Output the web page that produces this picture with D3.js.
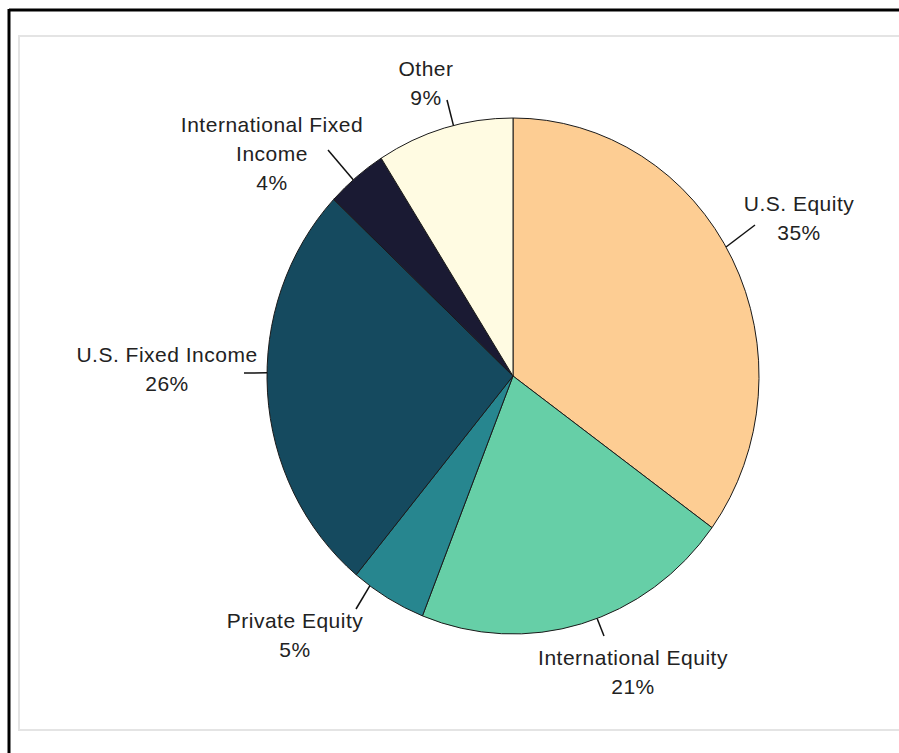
<!DOCTYPE html>
<html>
<head>
<meta charset="utf-8">
<script src="https://cdn.jsdelivr.net/npm/d3@7"></script>
<style>
  html, body { margin: 0; padding: 0; background: #fff; }
  svg { display: block; }
  text { font-family: "Liberation Sans", Arial, sans-serif; font-size: 21px; fill: #222; letter-spacing: 0.5px; }
</style>
</head>
<body>
<svg id="chart" width="899" height="753"></svg>
<script>
// ---- data ----
const categories = ["U.S. Equity", "International Equity", "Private Equity", "U.S. Fixed Income", "International Fixed Income", "Other"];
const values = [35, 21, 5, 26, 4, 9];
const labelLines = [["U.S. Equity", "35%"], ["International Equity", "21%"], ["Private Equity", "5%"], ["U.S. Fixed Income", "26%"], ["International Fixed", "Income", "4%"], ["Other", "9%"]];
const colors = ["#FDCD93", "#66CFA7", "#27868F", "#154A5F", "#1A1A33", "#FFFBE2"];

// ---- layout (positions, not data) ----
const W = 899, H = 753;
const cx = 513, cy = 376, rx = 246, ry = 258;
const lineH = 29;
// label anchor (centre x, first baseline y), leader attach angle on the pie (deg), leader end point
const labelLayout = [
  { tx: 799, ty: 211, ang: 60,  ex: 755, ey: 225 },
  { tx: 633, ty: 665, ang: 160, ex: 604, ey: 636 },
  { tx: 295, ty: 628, ang: 215.6, ex: 356, ey: 609 },
  { tx: 167, ty: 362, ang: 270.7, ex: 244, ey: 373 },
  { tx: 272, ty: 132, ang: 319.5, ex: 328, ey: 150 },
  { tx: 426, ty: 76,  ang: 346, ex: 447, ey: 100 }
];

const svg = d3.select("#chart");

// frame
svg.append("rect").attr("x", 19).attr("y", 36).attr("width", 900).attr("height", 694)
  .attr("fill", "none").attr("stroke", "#e4e4e4").attr("stroke-width", 2);
svg.append("line").attr("x1", 9).attr("x2", W).attr("y1", 10).attr("y2", 10)
  .attr("stroke", "#000").attr("stroke-width", 3);
svg.append("line").attr("x1", 9).attr("x2", 9).attr("y1", 9).attr("y2", H)
  .attr("stroke", "#000").attr("stroke-width", 3);

const data = categories.map((c, i) => ({ cat: c, value: values[i], color: colors[i], lines: labelLines[i], idx: i }));
const pie = d3.pie().value(d => d.value).sort(null);
const arcs = pie(data);
const arc = d3.arc().innerRadius(0).outerRadius(rx);

const g = svg.append("g").attr("transform", `translate(${cx},${cy}) scale(1,${ry / rx})`);
g.selectAll("path").data(arcs).enter().append("path")
  .attr("d", arc)
  .attr("fill", d => d.data.color)
  .attr("stroke", "#1a1a1a")
  .attr("stroke-width", 1)
  .attr("vector-effect", "non-scaling-stroke");

// leader lines and labels
arcs.forEach(a => {
  const L = labelLayout[a.data.idx];
  const t0 = L.ang * Math.PI / 180;
  const sx = cx + rx * Math.sin(t0), sy = cy - ry * Math.cos(t0);
  svg.append("line").attr("x1", sx).attr("y1", sy).attr("x2", L.ex).attr("y2", L.ey)
    .attr("stroke", "#111").attr("stroke-width", 1.5);
  const t = svg.append("text").attr("text-anchor", "middle");
  a.data.lines.forEach((ln, k) => {
    t.append("tspan").attr("x", L.tx).attr("y", L.ty + k * lineH).text(ln);
  });
});
</script>
</body>
</html>
